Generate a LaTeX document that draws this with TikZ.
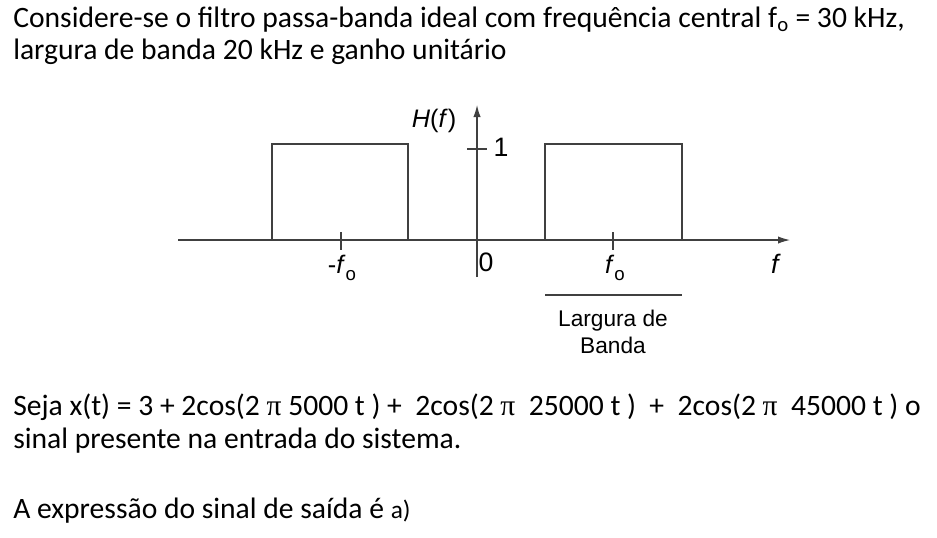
\documentclass[tikz,border=0pt]{standalone}
\usepackage{fontspec}
\setmainfont{Carlito}
\newfontfamily\diagfont{Liberation Sans}
\newfontfamily\pisym{Liberation Serif}
\usepackage{tikz}
\usetikzlibrary{arrows.meta}
\newcommand{\fsub}{\textit{f}\raisebox{-0.3em}{\fontsize{14}{16}\selectfont o}}
\tikzstyle{txt}=[anchor=base west,inner sep=0pt,font=\fontsize{22.2}{26}\selectfont]
\tikzstyle{lbl}=[inner sep=0pt,font=\diagfont\fontsize{17}{20}\selectfont]
\tikzstyle{big}=[lbl,font=\diagfont\fontsize{20}{22}\selectfont]
\tikzstyle{axis}=[draw=black!75,line width=0.9pt]
\tikzstyle{arr}=[-{Latex[length=9pt,width=5.5pt]}]

\begin{document}
\begin{tikzpicture}[x=0.75pt,y=-0.75pt]
        \useasboundingbox (0,0) rectangle (937,537);
        % enunciado
        \node[txt] (l1) at (13,27) {Considere-se o filtro passa-banda ideal com frequência central f\textsubscript{o} = 30 kHz,};
        \node[txt] (l2) at (13,59) {largura de banda 20 kHz e ganho unitário};
        % eixos
        \coordinate (xa) at (178,240);
        \coordinate (xb) at (790,240);
        \coordinate (ya) at (477,277);
        \coordinate (yb) at (477,105);
        \draw[axis,arr] (xa) -- (xb);
        \draw[axis,arr] (ya) -- (yb);
        \draw[axis] (467,149) -- (487,149);
        \draw[axis] (341,232) -- (341,250);
        \draw[axis] (613,232) -- (613,250);
        % filtro
        \draw[axis] (272,240) rectangle (408,144);
        \draw[axis] (545,240) rectangle (682,144);
        \draw[axis] (545,295) -- (682,295);
        \node[lbl,font=\diagfont\fontsize{19}{22}\selectfont] (hf) at (434,121) {\textit{H}(\textit{f})};
        \node[big] (um) at (501,147) {1};
        \node[big] (zero) at (486,262) {0};
        \node[lbl,font=\diagfont\fontsize{19}{22}\selectfont] (mf) at (342,268) {-\fsub};
        \node[lbl,font=\diagfont\fontsize{19}{22}\selectfont] (pf) at (615,268) {\fsub};
        \node[big] (ff) at (776,264) {\textit{f}};
        \node[lbl,align=center] (banda) at (613,332) {Largura de\\Banda};
        % sinal
        \node[txt] (l3) at (13,415) {Seja x(t) = 3 + 2cos(2 {\pisym π} 5000 t ) +\ \ 2cos(2 {\pisym π}\ \ 25000 t )\ \ +\ \ 2cos(2 {\pisym π}\ \ 45000 t ) o};
        \node[txt] (l4) at (13,448) {sinal presente na entrada do sistema.};
        \node[txt] (l5) at (13,518) {A expressão do sinal de saída é {\fontsize{19}{22}\selectfont a)}};
\end{tikzpicture}
\end{document}
